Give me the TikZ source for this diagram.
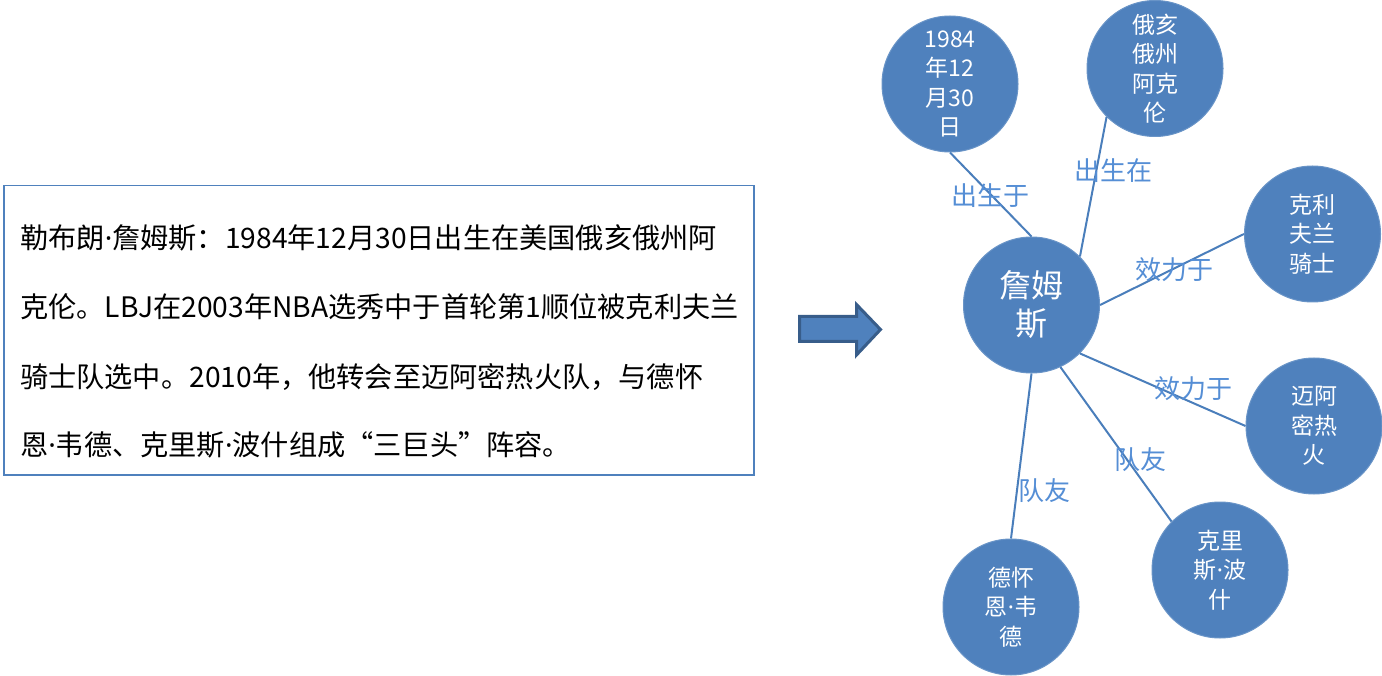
\documentclass[tikz,border=0pt]{standalone}
\usepackage{fontspec}
\setmainfont{Noto Sans CJK SC}
\newfontfamily\latfont{Noto Sans}
\newcommand{\md}{{\latfont ·}}
\definecolor{cfill}{HTML}{4F81BD}
\definecolor{cline}{HTML}{4A7EBB}
\definecolor{clabel}{HTML}{558ED5}
\definecolor{cdark}{HTML}{385D8A}
\tikzset{
  bubble/.style={circle, fill=cfill, draw=cfill!85!white, line width=1pt, minimum size=136pt, inner sep=0pt, text=white, align=center, font=\fontsize{23}{29.5}\selectfont},
  hub/.style={bubble, font=\fontsize{32}{38}\selectfont},
  link/.style={draw=cline, line width=2pt},
  rel/.style={text=clabel, inner sep=0pt, font=\fontsize{26}{26}\selectfont},
  bodyline/.style={anchor=west, inner sep=0pt, font=\fontsize{28.2}{28.2}\selectfont},
}
\begin{document}
\begin{tikzpicture}[x=1pt,y=-1pt]
\useasboundingbox (0,0) rectangle (1382,676);
% text box
\node[draw=cfill, line width=1.5pt, minimum width=750pt, minimum height=289pt, inner sep=0pt, anchor=north west] (box) at (3,185) {};
\node[bodyline] (l1) at (20,238) {勒布朗\md 詹姆斯：1984年12月30日出生在美国俄亥俄州阿};
\node[bodyline] (l2) at (20,307) {克伦。LBJ在2003年NBA选秀中于首轮第1顺位被克利夫兰};
\node[bodyline] (l3) at (20,377) {骑士队选中。2010年，他转会至迈阿密热火队，与德怀};
\node[bodyline] (l4) at (20,445) {恩\md 韦德、克里斯\md 波什组成“三巨头”阵容。};
% arrow
\draw[fill=cfill, draw=cdark, line width=3pt, line join=miter]
  (799.5,316.5) -- (856.5,316.5) -- (856.5,304.5) -- (880.5,329.5) -- (856.5,355) -- (856.5,341.5) -- (799.5,341.5) -- cycle;
% bubbles
\node[hub] (jm) at (1031.5,305) {詹姆\\斯};
\node[bubble] (b1984) at (950,84) {1984\\年12\\月30\\日};
\node[bubble] (ohio) at (1155,68.5) {俄亥\\俄州\\阿克\\伦};
\node[bubble] (cav) at (1312.5,234) {克利\\夫兰\\骑士};
\node[bubble] (heat) at (1314,426) {迈阿\\密热\\火};
\node[bubble] (bosh) at (1220,570) {克里\\斯\md 波\\什};
\node[bubble] (wade) at (1011,607) {德怀\\恩\md 韦\\德};
% links
\draw[link] (b1984.south) -- (jm.north);
\draw[link] (ohio.south west) -- (jm.north east);
\draw[link] (jm.east) -- (cav.west);
\draw[link] (jm.south east) -- (heat.west);
\draw[link] (jm.-65) -- (bosh.north west);
\draw[link] (jm.south) -- (wade.north);
% labels
\node[rel] (r1) at (990,196) {出生于};
\node[rel] (r2) at (1113,171) {出生在};
\node[rel] (r3) at (1174,270) {效力于};
\node[rel] (r4) at (1193,389) {效力于};
\node[rel] (r5) at (1140,460) {队友};
\node[rel] (r6) at (1044,491) {队友};
\end{tikzpicture}
\end{document}
